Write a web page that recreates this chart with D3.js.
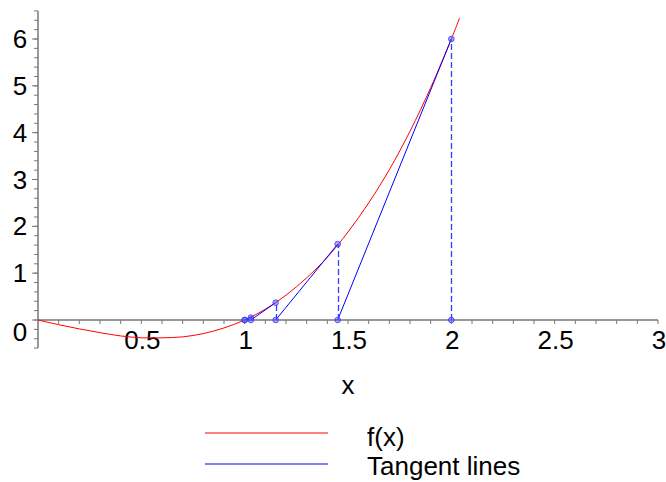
<html>
<head>
<script src="https://d3js.org/d3.v7.min.js"></script>
<style>
  body { margin: 0; background: #fff; }
  svg { font-family: "Liberation Sans", Arial, sans-serif; }
</style>
</head>
<body>
<svg width="666" height="482"></svg>
<script>
// f(x) samples
var curveX = [0, 0.1, 0.2, 0.3, 0.4, 0.5, 0.6, 0.7, 0.8, 0.9, 1.0, 1.1, 1.2, 1.3, 1.4, 1.5, 1.6, 1.7, 1.8, 1.9, 2.0, 2.04];
var curveY = [0, -0.1, -0.19, -0.27, -0.34, -0.38, -0.38, -0.36, -0.29, -0.17, 0, 0.23, 0.53, 0.9, 1.34, 1.88, 2.5, 3.21, 4.03, 4.96, 6.0, 6.45];

// Newton iterates (x on axis, f(x) on curve)
var iterX = [2.0, 1.45, 1.15, 1.03, 1.0];
var iterY = [6.0, 1.62, 0.37, 0.05, 0.0];

var xTicks = [0.5, 1, 1.5, 2, 2.5, 3];
var yTicks = [0, 1, 2, 3, 4, 5, 6];
var legendNames = ["f(x)", "Tangent lines"];
var legendColors = ["#ff0000", "#0000ff"];

var svg = d3.select("svg");

var x = d3.scaleLinear().domain([0, 3]).range([38, 658]);
var y = d3.scaleLinear().domain([0, 6]).range([320, 39]);

var axisColor = "#777";
var fs = 26;

// y axis
var yMinor = d3.range(-0.6, 6.61, 0.2);
svg.append("line")
  .attr("x1", x(0)).attr("x2", x(0))
  .attr("y1", y(6.6)).attr("y2", y(-0.6))
  .attr("stroke", axisColor).attr("stroke-width", 1.5);
svg.selectAll(".ymin").data(yMinor).enter().append("line")
  .attr("x1", x(0) - 4).attr("x2", x(0))
  .attr("y1", function(d) { return y(d); })
  .attr("y2", function(d) { return y(d); })
  .attr("stroke", axisColor);
svg.selectAll(".ymaj").data(yTicks).enter().append("line")
  .attr("x1", x(0) - 6).attr("x2", x(0))
  .attr("y1", function(d) { return y(d); })
  .attr("y2", function(d) { return y(d); })
  .attr("stroke", axisColor);
svg.selectAll(".ylab").data(yTicks).enter().append("text")
  .attr("x", 20)
  .attr("y", function(d) { return d === 0 ? y(d) + 21 : y(d) + 9; })
  .attr("text-anchor", "middle")
  .attr("font-size", fs)
  .text(function(d) { return d; });

// x axis
var xMinor = d3.range(0.1, 3.01, 0.1);
svg.append("line")
  .attr("x1", x(0)).attr("x2", x(3))
  .attr("y1", y(0)).attr("y2", y(0))
  .attr("stroke", axisColor).attr("stroke-width", 1.5);
svg.selectAll(".xmin").data(xMinor).enter().append("line")
  .attr("x1", function(d) { return x(d); })
  .attr("x2", function(d) { return x(d); })
  .attr("y1", y(0)).attr("y2", y(0) + 4)
  .attr("stroke", axisColor);
svg.selectAll(".xlab").data(xTicks).enter().append("text")
  .attr("x", function(d) { return x(d) + 1; })
  .attr("y", y(0) + 29)
  .attr("text-anchor", "middle")
  .attr("font-size", fs)
  .text(function(d) { return d; });

svg.append("text")
  .attr("x", 348).attr("y", 394)
  .attr("text-anchor", "middle")
  .attr("font-size", fs)
  .text("x");

// curve
var curveData = curveX.map(function(d, i) { return [d, curveY[i]]; });
svg.append("path")
  .datum(curveData)
  .attr("fill", "none")
  .attr("stroke", "#ff0000")
  .attr("stroke-width", 1)
  .attr("d", d3.line()
    .x(function(d) { return x(d[0]); })
    .y(function(d) { return y(d[1]); })
    .curve(d3.curveCatmullRom));

// tangent lines and dashed verticals
for (var i = 0; i < iterX.length - 1; i++) {
  svg.append("line")
    .attr("x1", x(iterX[i])).attr("y1", y(iterY[i]))
    .attr("x2", x(iterX[i + 1])).attr("y2", y(0))
    .attr("stroke", "#0000ff").attr("stroke-width", 1);
}
iterX.forEach(function(d, i) {
  svg.append("line")
    .attr("x1", Math.round(x(d)) + 0.5).attr("y1", y(0))
    .attr("x2", Math.round(x(d)) + 0.5).attr("y2", y(iterY[i]))
    .attr("stroke", "#3a3aff").attr("stroke-width", 1.3)
    .attr("stroke-dasharray", "6,3");
});

// markers
var pts = [];
iterX.forEach(function(d, i) {
  pts.push([d, iterY[i]]);
  pts.push([d, 0]);
});
svg.selectAll(".pt").data(pts).enter().append("circle")
  .attr("cx", function(d) { return x(d[0]); })
  .attr("cy", function(d) { return y(d[1]); })
  .attr("r", 2.8)
  .attr("fill", "rgba(90,90,255,0.5)")
  .attr("stroke", "rgba(50,50,255,0.8)")
  .attr("stroke-width", 1);

// legend
legendNames.forEach(function(name, i) {
  var ly = 433 + i * 31;
  svg.append("line")
    .attr("x1", 205).attr("x2", 328)
    .attr("y1", ly).attr("y2", ly)
    .attr("stroke", legendColors[i]).attr("stroke-width", 1);
  svg.append("text")
    .attr("x", 367).attr("y", ly + 13 - i * 2)
    .attr("font-size", fs)
    .text(name);
});
</script>
</body>
</html>
